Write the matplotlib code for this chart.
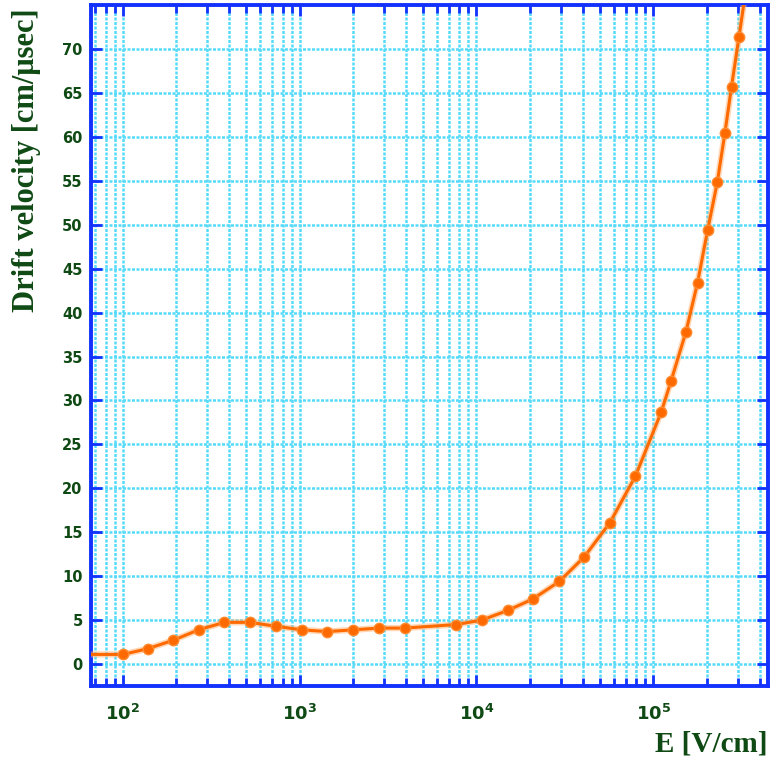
import matplotlib
matplotlib.use("Agg")
import matplotlib.pyplot as plt
from matplotlib.ticker import LogLocator, FixedLocator

# measured points (E in V/cm, drift velocity in cm/usec)
E = [100, 138, 192, 268, 375, 524, 736, 1030, 1430, 2010, 2810, 3940,
     7660, 10700, 15000, 20800, 29400, 40700, 56900, 79300,
     111000, 126000, 153000, 178000, 203000, 230000, 254000, 277000, 305000]
v = [1.1, 1.75, 2.7, 3.9, 4.75, 4.75, 4.3, 3.9, 3.7, 3.9, 4.1, 4.1,
     4.5, 5.0, 6.1, 7.4, 9.4, 12.2, 16.1, 21.4,
     28.7, 32.2, 37.8, 43.4, 49.4, 54.8, 60.4, 65.7, 71.3]

# curve runs past the first and last point
curve_E = [50] + E + [330000]
curve_v = [1.1] + v + [76]

y_ticks = list(range(0, 75, 5))
x_major = [1e2, 1e3, 1e4, 1e5]
x_labels = [r"$\mathbf{10^{2}}$", r"$\mathbf{10^{3}}$", r"$\mathbf{10^{4}}$", r"$\mathbf{10^{5}}$"]

blue = "#1432FF"
green = "#0F4A14"
cyan = "#55DAFA"
orange = "#FF6A00"

fig = plt.figure(figsize=(7.71, 7.64), dpi=100)
ax = fig.add_axes([0.118, 0.102, 0.878, 0.8915])

ax.set_xscale("log")
ax.set_xlim(66, 4.45e5)
ax.set_ylim(-2.5, 75)

# glow under the curve, then the curve itself
ax.plot(curve_E, curve_v, color="#FFB070", lw=4.5, alpha=0.5, zorder=3)
ax.plot(curve_E, curve_v, color=orange, lw=2.2, zorder=4)
ax.plot(E, v, "o", color=orange, ms=7.5, mec="#FF8A30", mew=1, zorder=5)

ax.xaxis.set_major_locator(FixedLocator(x_major))
ax.set_xticklabels(x_labels)
ax.xaxis.set_minor_locator(LogLocator(base=10, subs=range(2, 10), numticks=20))
ax.xaxis.set_minor_formatter(plt.NullFormatter())
ax.yaxis.set_major_locator(FixedLocator(y_ticks))

ax.grid(True, which="both", axis="x", color=cyan, lw=1.8, ls=(0, (1.2, 0.6)), zorder=1)
ax.grid(True, which="major", axis="y", color=cyan, lw=1.8, ls=(0, (1.2, 0.6)), zorder=1)

for s in ax.spines.values():
    s.set_color(blue)
    s.set_linewidth(2.8)

ax.tick_params(which="both", direction="in", top=True, right=True, color=blue, width=2)
ax.tick_params(which="major", length=8)
ax.tick_params(which="minor", length=6)
ax.tick_params(axis="y", labelsize=10.5, labelcolor=green, pad=6)
ax.tick_params(axis="x", labelsize=13, labelcolor=green, pad=13)
for lab in ax.get_yticklabels():
    lab.set_fontweight("bold")

fig.text(0.996, 0.026, "E [V/cm]", ha="right", va="center", fontsize=21,
         fontweight="bold", color=green, family="Liberation Serif")
fig.text(0.035, 0.79, "Drift velocity [cm/\u03bcsec]", rotation=90, ha="center", va="center",
         fontsize=22, fontweight="bold", color=green, family="Liberation Serif")

fig.savefig("out.png", dpi=100)
